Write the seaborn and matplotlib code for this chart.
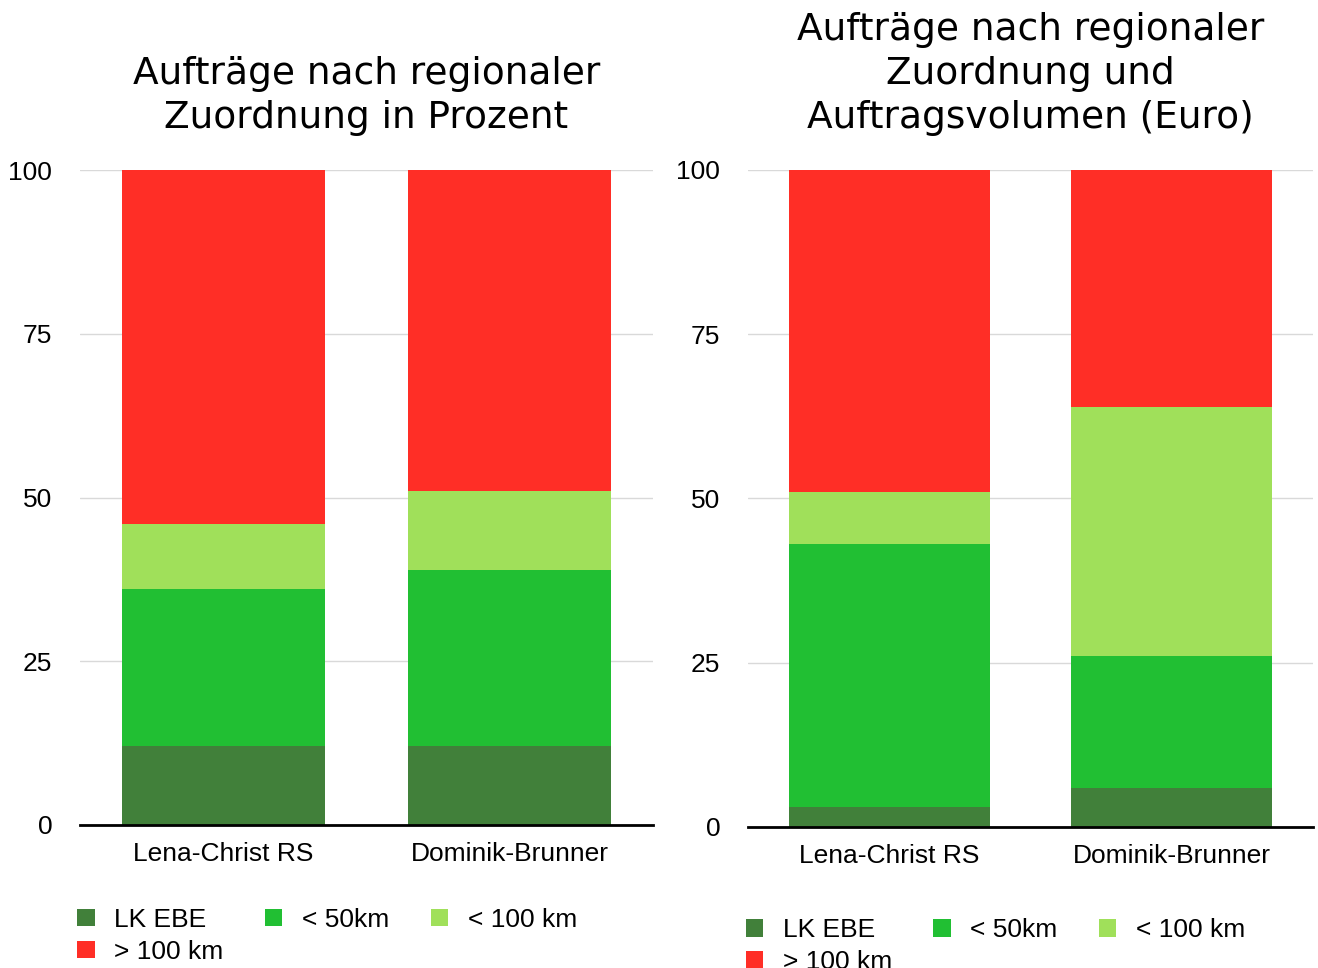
import seaborn as sns
import numpy as np
import pandas as pd
import matplotlib.pyplot as plt

schulen = ["Lena-Christ RS", "Dominik-Brunner"]
kategorien = ["LK EBE", "< 50km", "< 100 km", "> 100 km"]
farben = ["#41803A", "#21BF33", "#A0E05A", "#FF2E26"]

# Anteile in Prozent (Anzahl Aufträge)
prozent_lk = [12, 12]
prozent_50 = [24, 27]
prozent_100 = [10, 12]
prozent_ueber = [54, 49]

# Anteile nach Auftragsvolumen (Euro)
volumen_lk = [3, 6]
volumen_50 = [40, 20]
volumen_100 = [8, 38]
volumen_ueber = [49, 36]

sns.set_style("white")
plt.rcParams["font.family"] = ["Liberation Sans", "DejaVu Sans"]
plt.rcParams["text.color"] = "black"
plt.rcParams["xtick.color"] = "black"
plt.rcParams["ytick.color"] = "black"

fig = plt.figure(figsize=(13.18, 9.68), dpi=100)
ax1 = fig.add_axes([80 / 1318, 1 - 825 / 968, 573 / 1318, 655 / 968])
ax2 = fig.add_axes([748 / 1318, 1 - 827 / 968, 565 / 1318, 657 / 968])


def gestapelt(ax, werte, titel, legende_y):
    df = pd.DataFrame(dict(zip(kategorien, werte)), index=schulen)
    kum = df.cumsum(axis=1)
    # von oben nach unten zeichnen, damit die Stapel sichtbar bleiben
    for kat, farbe in reversed(list(zip(kategorien, farben))):
        sns.barplot(x=schulen, y=kum[kat].values, color=farbe, width=0.71,
                    ax=ax, label=kat, saturation=1, edgecolor="none")
    ax.set_ylim(0, 100)
    ax.set_xlim(-0.5, 1.5)
    ax.set_yticks([0, 25, 50, 75, 100])
    ax.tick_params(axis="y", labelsize=19, pad=20, length=0)
    ax.tick_params(axis="x", labelsize=19, pad=12, length=0)
    ax.yaxis.grid(True, color="#d9d9d9", linewidth=1)
    ax.set_axisbelow(True)
    for s in ["top", "right", "left"]:
        ax.spines[s].set_visible(False)
    ax.spines["bottom"].set_color("black")
    ax.spines["bottom"].set_linewidth(2)
    ax.set_title(titel, fontsize=27, family="DejaVu Sans", color="black",
                 pad=30, linespacing=1.3)
    h, l = ax.get_legend_handles_labels()
    h, l = h[::-1], l[::-1]
    # Reihenfolge so, dass die Legende zeilenweise gelesen wird
    reihe = [0, 3, 1, 2]
    ax.legend([h[i] for i in reihe], [l[i] for i in reihe], loc="upper left",
              bbox_to_anchor=(-0.046, legende_y), ncol=3, frameon=False,
              fontsize=19, handlelength=0.65, handleheight=0.65,
              handletextpad=0.75, columnspacing=1.57, labelspacing=0.3)


gestapelt(ax1, [prozent_lk, prozent_50, prozent_100, prozent_ueber],
          "Aufträge nach regionaler\nZuordnung in Prozent", -0.09)
gestapelt(ax2, [volumen_lk, volumen_50, volumen_100, volumen_ueber],
          "Aufträge nach regionaler\nZuordnung und\nAuftragsvolumen (Euro)", -0.103)

plt.savefig("out.png", dpi=100)
